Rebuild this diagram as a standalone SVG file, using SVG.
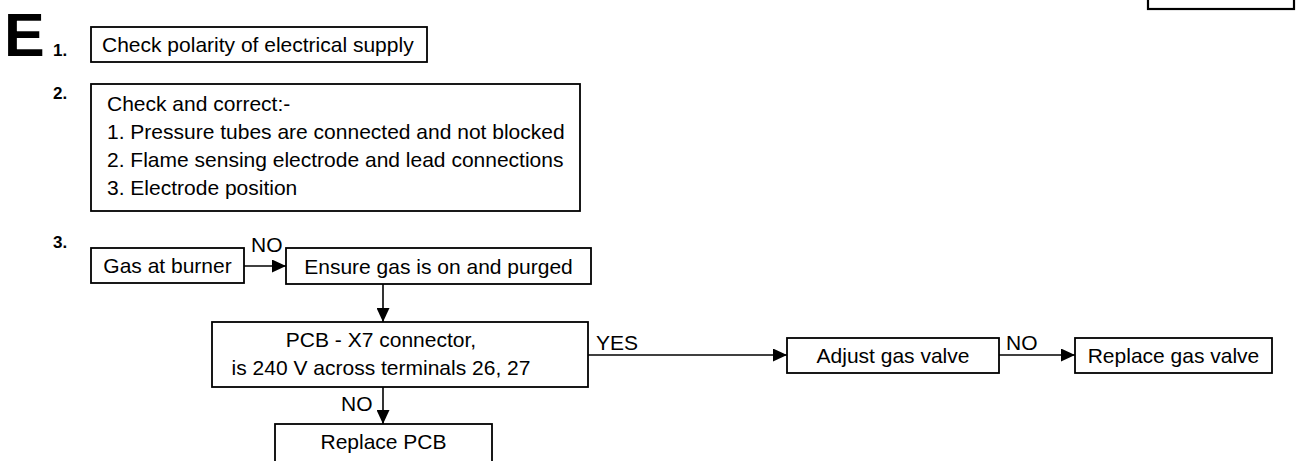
<svg xmlns="http://www.w3.org/2000/svg" width="1297" height="461" viewBox="0 0 1297 461">
<style>
.box{fill:#fff;stroke:#000;stroke-width:1.8}
.t{font-family:"Liberation Sans",Arial,sans-serif;font-size:21px;fill:#000}
.m{text-anchor:middle}
.num{font-family:"Liberation Sans",Arial,sans-serif;font-size:17px;font-weight:bold;fill:#000}
.c{stroke:#000;stroke-width:1.6;fill:none}
</style>
<defs>
<marker id="ah" markerWidth="14" markerHeight="13" refX="14" refY="6.5" orient="auto" markerUnits="userSpaceOnUse">
<path d="M0,0 L14,6.5 L0,13 z" fill="#000"/>
</marker>
</defs>
<rect width="1297" height="461" fill="#fff"/>
<text x="4" y="56" font-family="Liberation Sans,Arial,sans-serif" font-size="61" font-weight="bold">E</text>
<text class="num" x="53" y="56">1.</text>
<text class="num" x="53" y="99">2.</text>
<text class="num" x="53" y="248">3.</text>
<g id="topright"><rect x="1148" y="-20" width="146" height="29" fill="#fff" stroke="#000" stroke-width="2.2"/></g>
<g id="n1"><rect class="box" x="91" y="27" width="336" height="35"/><text class="t" x="102" y="52">Check polarity of electrical supply</text></g>
<g id="n2"><rect class="box" x="91" y="84" width="489" height="127"/>
<text class="t" x="107" y="111">Check and correct:-</text>
<text class="t" x="107" y="139">1. Pressure tubes are connected and not blocked</text>
<text class="t" x="107" y="167">2. Flame sensing electrode and lead connections</text>
<text class="t" x="107" y="195">3. Electrode position</text></g>
<g id="n3"><rect class="box" x="91" y="248" width="153" height="35"/><text class="t m" x="167.5" y="273">Gas at burner</text></g>
<g id="n4"><rect class="box" x="286" y="248" width="305" height="36"/><text class="t m" x="438.5" y="274">Ensure gas is on and purged</text></g>
<g id="n5"><rect class="box" x="212" y="322" width="376" height="65"/>
<text class="t m" x="381" y="347">PCB - X7 connector,</text>
<text class="t m" x="381" y="375">is 240 V across terminals 26, 27</text></g>
<g id="n6"><rect class="box" x="275" y="424" width="217" height="50"/><text class="t m" x="383.5" y="449">Replace PCB</text></g>
<g id="n7"><rect class="box" x="787" y="338" width="212" height="35"/><text class="t m" x="893" y="363">Adjust gas valve</text></g>
<g id="n8"><rect class="box" x="1075" y="338" width="197" height="35"/><text class="t m" x="1173.5" y="363">Replace gas valve</text></g>
<g id="connectors">
<line class="c" x1="244" y1="266" x2="286" y2="266" marker-end="url(#ah)"/>
<line class="c" x1="383" y1="284" x2="383" y2="322" marker-end="url(#ah)"/>
<line class="c" x1="383" y1="387" x2="383" y2="424" marker-end="url(#ah)"/>
<line class="c" x1="588" y1="355" x2="787" y2="355" marker-end="url(#ah)"/>
<line class="c" x1="999" y1="355" x2="1075" y2="355" marker-end="url(#ah)"/>
<text class="t" x="251" y="252">NO</text>
<text class="t" x="341" y="411">NO</text>
<text class="t" x="596" y="350">YES</text>
<text class="t" x="1006" y="350">NO</text>
</g>
</svg>
